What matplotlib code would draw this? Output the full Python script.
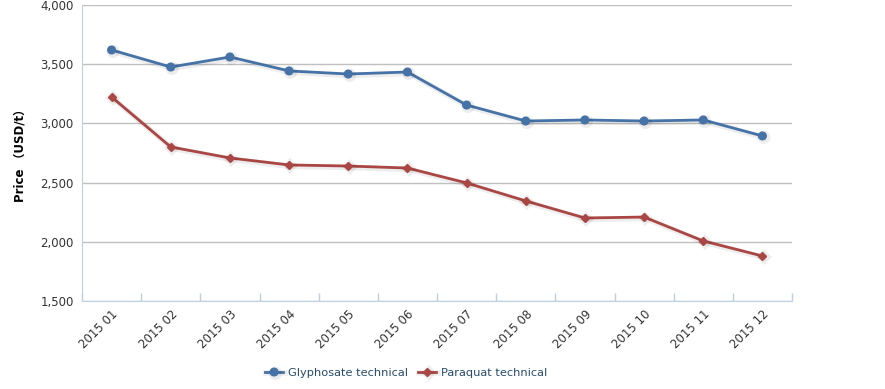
import matplotlib
matplotlib.use("Agg")
import matplotlib.pyplot as plt
import matplotlib.patheffects as pe
from matplotlib.ticker import FuncFormatter, FixedLocator
import numpy as np

plt.rcParams['font.family'] = ['DejaVu Sans', 'Noto Sans CJK SC']

months = ["2015 01", "2015 02", "2015 03", "2015 04", "2015 05", "2015 06",
          "2015 07", "2015 08", "2015 09", "2015 10", "2015 11", "2015 12"]
glyphosate = [3620, 3476, 3561, 3443, 3417, 3434, 3155, 3020, 3029, 3020, 3029, 2894]
paraquat = [3223, 2801, 2708, 2649, 2640, 2623, 2497, 2345, 2201, 2209, 2007, 1880]
y_ticks = [1500, 2000, 2500, 3000, 3500, 4000]

blue = "#4572A7"
red = "#AA4643"
axis_col = "#C0D0E0"
label_col = "#333333"

fig = plt.figure(figsize=(8.85, 3.89), dpi=100)
ax = fig.add_axes([82 / 885, 88 / 389, 710 / 885, 296 / 389])

x = np.arange(len(months))
shadow = [pe.SimpleLineShadow(offset=(1, -1), shadow_color="k", alpha=0.07, linewidth=4), pe.Normal()]
ax.plot(x, glyphosate, color=blue, lw=2, marker="o", ms=5.5, label="Glyphosate technical",
        path_effects=shadow, zorder=3)
ax.plot(x, paraquat, color=red, lw=2, marker="D", ms=4, label="Paraquat technical",
        path_effects=shadow, zorder=3)

ax.set_xlim(-0.5, len(months) - 0.5)
ax.set_ylim(1500, 4000)
ax.set_yticks(y_ticks)
ax.yaxis.set_major_formatter(FuncFormatter(lambda v, p: f"{int(v):,}"))
ax.grid(axis="y", color="#C0C0C0", lw=1)
ax.set_axisbelow(True)

# category boundary ticks
ax.xaxis.set_major_locator(FixedLocator(np.arange(-0.5, len(months), 1.0)))
ax.xaxis.set_major_formatter(FuncFormatter(lambda v, p: ""))
ax.xaxis.set_minor_locator(FixedLocator(x))
ax.set_xticklabels(months, minor=True)
ax.tick_params(axis="x", which="major", length=6, color=axis_col, width=1, direction="in")
ax.tick_params(axis="x", which="minor", length=0, pad=5)
for lab in ax.get_xticklabels(minor=True):
    lab.set_rotation(45)
    lab.set_ha("right")
    lab.set_va("top")
    lab.set_rotation_mode("anchor")
    lab.set_fontsize(8.5)
    lab.set_color(label_col)
ax.tick_params(axis="y", length=0, labelsize=8.5, labelcolor=label_col, pad=6)

for s in ["top", "right"]:
    ax.spines[s].set_visible(False)
ax.spines["left"].set_color(axis_col)
ax.spines["bottom"].set_color(axis_col)

ax.set_ylabel("Price （USD/t）", fontsize=8.5, fontweight="bold", color="black", labelpad=10,
              family=['DejaVu Sans', 'Noto Sans CJK SC'])

fig.legend(loc="center", bbox_to_anchor=(406 / 885, 1 - 373 / 389), ncol=2, frameon=False,
           fontsize=8.2, handlelength=1.6, columnspacing=0.9, handletextpad=0.4,
           labelcolor="#274b6d")

fig.savefig("out.png", dpi=100)
